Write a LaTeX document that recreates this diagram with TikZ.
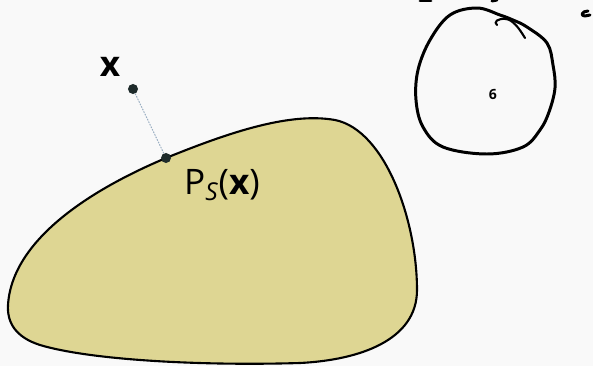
\documentclass[tikz,border=0pt]{standalone}
\usepackage{fontspec}
\setmainfont{Open Sans}
\begin{document}
\begin{tikzpicture}[x=0.02cm, y=-0.02cm, line join=round, line cap=round]
	\definecolor{bgcol}{HTML}{F9F9F9}
	\definecolor{setcol}{HTML}{DED693}
	\definecolor{dotcol}{HTML}{1E2B2B}
	\definecolor{projcol}{HTML}{9AAFC2}
	\tikzset{dot/.style={circle, fill=dotcol, inner sep=0pt, minimum size=5.7pt},
		proj/.style={projcol, densely dotted, line width=0.6pt},
		ink/.style={line width=1.7pt, black},
		every node/.style={font=\fontsize{20}{24}\selectfont}}
	\fill[bgcol] (0,0) rectangle (593,366);
	\useasboundingbox (0,0) rectangle (593,366);
	% the set S
	\draw[fill=setcol, line width=1.2pt] (8,305)
		.. controls (12,240) and (90,190) .. (166,158)
		.. controls (230,132) and (290,112) .. (335,120)
		.. controls (385,130) and (417,220) .. (417,290)
		.. controls (417,340) and (360,360) .. (300,363)
		.. controls (200,366) and (90,360) .. (40,345)
		.. controls (15,337) and (7,322) .. (8,305) -- cycle;
	% point and its projection
	\node[dot] (x) at (133,89) {};
	\node[dot] (p) at (166,158) {};
	\draw[proj] (x) -- (p);
	\node (xlab) at (110,67) {\textbf{x}};
	\node[anchor=west] (plab) at (178,185) {P\textsubscript{\itshape S}(\textbf{x})};
	% hand-drawn scribbles
	\draw[ink] plot[smooth cycle, tension=0.6] coordinates {(477,8) (500,15) (513,20) (527,27) (547,43) (553,65) (555,88) (549,112) (540,130) (523,147) (487,154) (443,147) (423,127) (416,100) (418,70) (430,40) (450,15)};
	\draw[line width=1.2pt] (525,38) .. controls (519,28) and (513,20) .. (506,19) .. controls (498,18) and (493,22) .. (497,25);
	\draw[ink] (420,1) -- (431,1);
	\draw[ink] (492,1) -- (497,0);
	\draw[ink] (588,11) .. controls (582,11) and (580,16) .. (585,16) -- (590,15);
	\node[font=\bfseries\fontsize{8}{9}\selectfont] (six) at (493,94) {6};
\end{tikzpicture}
\end{document}
